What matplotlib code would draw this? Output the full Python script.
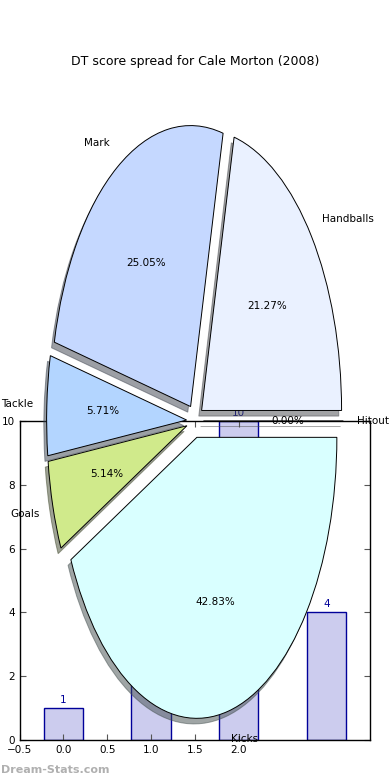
import numpy as np
import matplotlib
matplotlib.use("Agg")
import matplotlib.pyplot as plt

# pie data (DT score share)
labels = ['Hitout', 'Handballs', 'Mark', 'Tackle', 'Goals', 'Kicks']
shares = [0.0, 21.27, 25.05, 5.71, 5.14, 42.83]
colors = ['#ffffff', '#eaf1ff', '#c5d8ff', '#b3d5ff', '#d0ea8b', '#d9ffff']

# bar data sitting behind the pie
bar_x = [0, 1, 2, 3]
bar_h = [1, 5, 10, 4]
xticks = [-0.5, 0.0, 0.5, 1.0, 1.5, 2.0]
yticks = [0, 2, 4, 6, 8, 10]

fig = plt.figure(figsize=(3.9, 7.8), dpi=100)

# bar axes underneath
axb = fig.add_axes([0.05, 0.0513, 0.899, 0.409])
axb.bar(bar_x, bar_h, width=0.45, align='center', color='#ccccee',
        edgecolor='#000099', linewidth=1.0)
for x, h in zip(bar_x, bar_h):
    axb.text(x, h + 0.1, str(h), ha='center', va='bottom', color='#000099',
             fontsize=7.5)
axb.set_xlim(-0.5, 3.5)
axb.set_ylim(0, 10)
axb.set_xticks(xticks)
axb.set_yticks(yticks)
axb.tick_params(direction='in', top=True, right=True, labelsize=7.5,
                length=4, color='#555555')
for s in axb.spines.values():
    s.set_linewidth(1.0)

# pie axes on top, stretched (non-equal aspect)
axp = fig.add_axes([0, 0, 1, 1])
axp.patch.set_alpha(0)
wedges, texts, autotexts = axp.pie(
    shares, labels=labels, colors=colors, explode=[0.06] * len(shares),
    autopct='%1.2f%%', shadow=dict(ox=-0.0144, oy=-0.0144),
    startangle=0, labeldistance=1.1,
    wedgeprops=dict(edgecolor='black', linewidth=0.7),
    textprops=dict(fontsize=7.5))
axp.set_aspect('auto')
axp.set_xlim(-1.393, 1.393)
axp.set_ylim(-1.278, 1.498)
axp.axis('off')

fig.text(0.5, 0.921, 'DT score spread for Cale Morton (2008)', ha='center',
         va='center', fontsize=9)
fig.text(0.003, 0.013, 'Dream-Stats.com', ha='left', va='center',
         fontsize=8, color='#b0b0b0', fontweight='bold')

fig.savefig('out.png', dpi=100)
